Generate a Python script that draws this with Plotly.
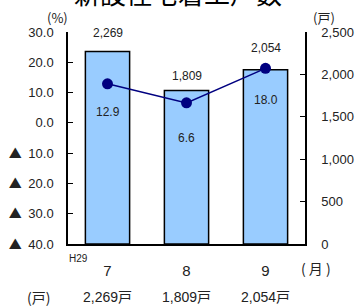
import plotly.graph_objects as go

months = ["7", "8", "9"]
units = [2269, 1809, 2054]
yoy = [12.9, 6.6, 18.0]
left_ticks = [30, 20, 10, 0, -10, -20, -30, -40]
left_labels = ["30.0", "20.0", "10.0", "0.0", "▲ 10.0", "▲ 20.0", "▲ 30.0", "▲ 40.0"]
right_ticks = [0, 500, 1000, 1500, 2000, 2500]

bar_label_shift = [19, 15, 22]
line_label_shift = [-28, -35, -32]

FONT = "Liberation Sans, Arial, Noto Sans CJK JP, sans-serif"
JP = "Noto Sans CJK JP, sans-serif"


def px_x(p):
    return (p - 68) / 237


def px_y(p):
    return (244 - p) / 212


def styled_tick(label):
    if label.startswith("▲"):
        return "<span style='font-family:Noto Sans CJK JP'>▲</span>\u2002" + label[1:].strip()
    return label


fig = go.Figure()
# bars on the base (right-side) axis, line on the overlaying (left-side) axis so it is drawn on top
fig.add_trace(go.Bar(
    x=months, y=units, yaxis="y", width=0.56,
    marker=dict(color="#99CCFF", line=dict(color="#000000", width=1.5)),
    showlegend=False, hoverinfo="skip"))
fig.add_trace(go.Scatter(
    x=months, y=yoy, yaxis="y2", mode="lines+markers",
    line=dict(color="#000080", width=1.5),
    marker=dict(color="#000080", size=11),
    showlegend=False, hoverinfo="skip", cliponaxis=False))

ann = []
for i, (u, s) in enumerate(zip(units, bar_label_shift)):
    ann.append(dict(x=i, y=u, yref="y", text=f"{u:,}", showarrow=False, xanchor="center",
                    yshift=s, font=dict(size=12, color="#222", family=FONT)))
for i, (v, s) in enumerate(zip(yoy, line_label_shift)):
    ann.append(dict(x=i, y=v, yref="y2", text=f"{v:.1f}", showarrow=False, xanchor="center",
                    yshift=s, font=dict(size=12, color="#222", family=FONT)))
for i, u in enumerate(units):
    ann.append(dict(x=i, y=px_y(297), yref="paper", text=f"{u:,}戸", showarrow=False,
                    xanchor="center", yanchor="middle", font=dict(size=14, color="#222", family=FONT)))


def side_text(text, cx, cy, size, family=JP):
    ann.append(dict(xref="paper", x=px_x(cx), yref="paper", y=px_y(cy), text=text, showarrow=False,
                    xanchor="center", yanchor="middle", font=dict(size=size, color="#222", family=family)))


side_text("(戸)", 38, 297, 14)
side_text("H29", 78, 258, 10, FONT)
side_text("( 月 )", 316, 268, 14)
side_text("(%)", 57, 18, 13)
side_text("(戸)", 324, 17, 13)
ann.append(dict(xref="paper", x=px_x(178), yref="paper", y=px_y(-8), text="新設住宅着工戸数",
                showarrow=False, xanchor="center", yanchor="middle",
                font=dict(size=26, color="#000", family=JP)))

fig.update_layout(
    width=356, height=308,
    margin=dict(l=68, r=51, t=32, b=64, autoexpand=False),
    paper_bgcolor="white", plot_bgcolor="white",
    annotations=ann,
    xaxis=dict(type="category", range=[-0.5, 2.5], showline=True, linecolor="#000", linewidth=1.5,
               ticks="", tickvals=months, ticktext=months, ticklabelstandoff=12, automargin=False,
               tickfont=dict(size=15, color="#222", family=FONT), showgrid=False, zeroline=False),
    yaxis=dict(range=[0, 2500], tickvals=right_ticks, tickformat=",", side="right",
               showline=True, linecolor="#000", linewidth=1.5, ticks="inside", ticklen=5,
               tickcolor="#000", ticklabelstandoff=12, showgrid=False, zeroline=False, automargin=False,
               tickfont=dict(size=13, color="#222", family=FONT)),
    yaxis2=dict(range=[-40, 30], tickvals=left_ticks, ticktext=[styled_tick(t) for t in left_labels],
                overlaying="y", side="left",
                showline=True, linecolor="#000", linewidth=1.5, ticks="inside", ticklen=5, tickcolor="#000",
                ticklabelstandoff=10, showgrid=False, zeroline=False, automargin=False,
                tickfont=dict(size=13, color="#222", family=FONT)),
)
fig.write_html("out.html", config={"displayModeBar": False},
               post_script="document.body.style.margin='0';document.body.style.padding='0';")
